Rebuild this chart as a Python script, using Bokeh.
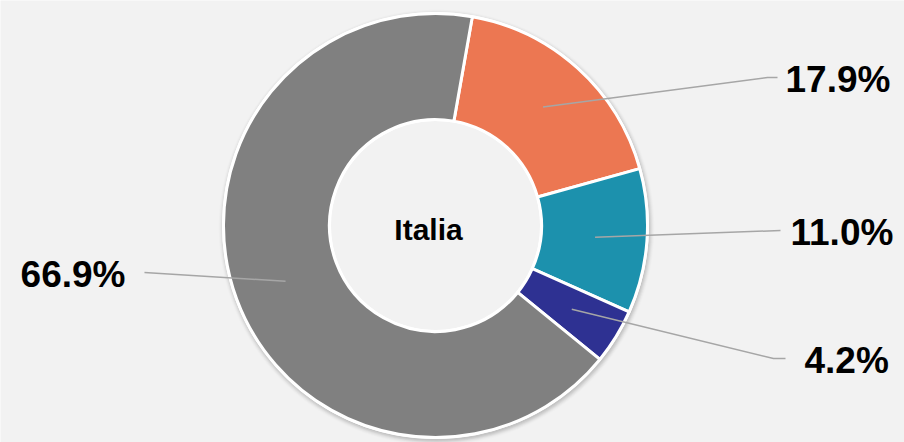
import math
from bokeh.plotting import figure
from bokeh.models import Range1d, ColumnDataSource
from bokeh.core.properties import value
from bokeh.embed import file_html
from bokeh.resources import INLINE

# ---- data ----
categories = ["A", "B", "C", "D"]
shares = [17.9, 11.0, 4.2, 66.9]
labels = ["17.9%", "11.0%", "4.2%", "66.9%"]
colors = ["#EC7752", "#1C91AD", "#2E3192", "#808080"]
center_label = "Italia"

# ---- layout (pixel coordinates of the 904x442 window, y measured downward) ----
W, H = 904, 442
CX, CY = 435, 225
R_OUT, R_IN = 212, 106
FIRST_ANGLE = 10.0  # degrees clockwise from 12 o'clock
elbows = [(767, 77), (780, 230), (773, 358), (144, 272)]
line_ends = [(777, 77), (780, 230), (785, 358), (144, 272)]
label_pos = [(785, 79, "left"), (790, 232, "left"), (804, 360, "left"), (125, 274, "right")]


def Y(py):
    return H - py


p = figure(width=W, height=H, output_backend="svg", toolbar_location=None,
           x_range=Range1d(0, W), y_range=Range1d(0, H), min_border=0)
p.axis.visible = False
p.grid.visible = False
p.outline_line_color = None
p.background_fill_color = "#F2F2F2"
p.border_fill_color = "#F2F2F2"

# soft shadow around the outer edge
for i, a in enumerate([0.05, 0.045, 0.04, 0.03, 0.02, 0.012]):
    p.annulus(x=[CX + 1], y=[Y(CY) - 2], inner_radius=R_OUT - 10, outer_radius=R_OUT + 1 + i,
              fill_color="black", fill_alpha=a, line_color=None)
p.annulus(x=[CX], y=[Y(CY)], inner_radius=R_IN - 1.5, outer_radius=R_OUT + 1.5,
          fill_color="white", line_color=None)

# wedges
total = sum(shares)
starts, ends, mids = [], [], []
acc = FIRST_ANGLE
for s in shares:
    a0 = acc
    a1 = acc + s / total * 360.0
    starts.append(math.radians(90 - a0))
    ends.append(math.radians(90 - a1))
    mids.append((a0 + a1) / 2)
    acc = a1

src = ColumnDataSource(dict(cat=categories, start=starts, end=ends, color=colors))
p.annular_wedge(x=CX, y=Y(CY), inner_radius=R_IN, outer_radius=R_OUT,
                start_angle="start", end_angle="end", direction="clock",
                fill_color="color", line_color="white", line_width=3, source=src)

# leader lines
r_mid = (R_IN + R_OUT) / 2 + 1
xs, ys = [], []
for m, e, le in zip(mids, elbows, line_ends):
    sx = CX + r_mid * math.sin(math.radians(m))
    sy = CY - r_mid * math.cos(math.radians(m))
    xs.append([sx, e[0], le[0]])
    ys.append([Y(sy), Y(e[1]), Y(le[1])])
p.multi_line(xs=xs, ys=ys, line_color="#A6A6A6", line_width=1.5)

# labels
for lab, (lx, ly, al) in zip(labels, label_pos):
    p.text(x=[lx], y=[Y(ly)], text=[lab], text_align=al, text_baseline="alphabetic",
           text_font=value("Liberation Sans"), text_font_style="bold",
           text_font_size="37px", text_color="black")

p.text(x=[CX - 7], y=[Y(229)], text=[center_label], text_align="center",
       text_baseline="alphabetic", text_font=value("Liberation Sans"),
       text_font_style="bold", text_font_size="30px", text_color="black")

html = file_html(p, INLINE)
open("out.html", "w").write(html)
